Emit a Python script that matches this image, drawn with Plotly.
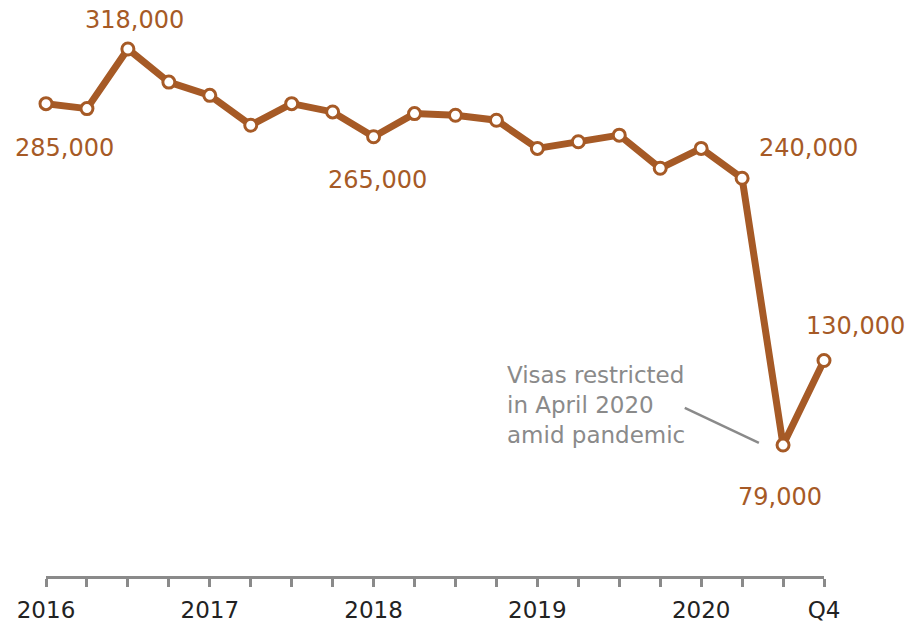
import plotly.graph_objects as go

quarters = list(range(20))
tick_labels = ["2016", "", "", "", "2017", "", "", "", "2018", "", "", "",
               "2019", "", "", "", "2020", "", "", "Q4"]
values = [285000, 282000, 318000, 298000, 290000, 272000, 285000, 280000,
          265000, 279000, 278000, 275000, 258000, 262000, 266000, 246000,
          258000, 240000, 79000, 130000]

BROWN = "#A65A26"
GRAY = "#8a8a8a"
FONT = "DejaVu Sans"

fig = go.Figure()
fig.add_trace(go.Scatter(
    x=quarters, y=values, mode="lines+markers",
    line=dict(color=BROWN, width=7),
    marker=dict(size=12, color="white", line=dict(color=BROWN, width=3)),
    cliponaxis=False, hoverinfo="skip", showlegend=False,
))

# value labels: (index, dx, dy)
labels = [(0, 18, -44), (2, 7, 29), (8, 4, -43), (17, 66, 30), (18, -3, -52), (19, 31, 35)]
for i, dx, dy in labels:
    fig.add_annotation(x=quarters[i], y=values[i], xref="x", yref="y",
                       text=f"{values[i]:,}", showarrow=False,
                       xshift=dx, yshift=dy,
                       font=dict(family=FONT, size=24, color=BROWN))

fig.add_annotation(x=0.59, y=0.303, xref="paper", yref="paper",
                   xanchor="left", yanchor="middle", align="left",
                   text="Visas restricted<br>in April 2020<br>amid pandemic",
                   showarrow=False,
                   font=dict(family=FONT, size=23, color=GRAY))
fig.add_shape(type="line", xref="x", yref="y", x0=15.6, y0=101400, x1=17.41, y1=80300,
              line=dict(color=GRAY, width=2.5))

fig.update_layout(
    width=909, height=625,
    margin=dict(l=46, r=85, t=12, b=49, autoexpand=False),
    plot_bgcolor="white", paper_bgcolor="white",
    xaxis=dict(range=[0, 19], tickvals=quarters, ticktext=tick_labels,
               automargin=False,
               showgrid=False, zeroline=False, showline=True,
               linecolor=GRAY, linewidth=2.5, ticks="outside", ticklen=8,
               tickwidth=2.5, tickcolor=GRAY, ticklabelstandoff=4,
               tickfont=dict(family=FONT, size=23, color="#222222")),
    yaxis=dict(range=[0, 340300], visible=False, showgrid=False, zeroline=False,
               automargin=False),
)

fig.write_html("out.html")
